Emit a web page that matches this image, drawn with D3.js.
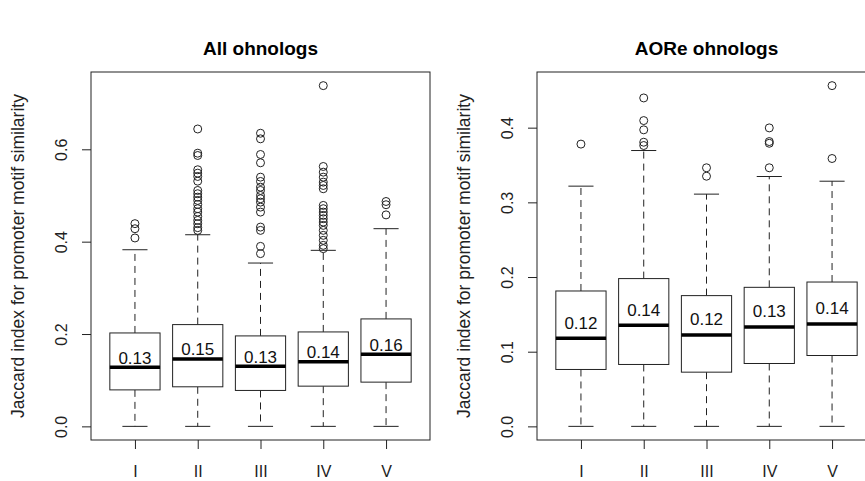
<!DOCTYPE html>
<html>
<head>
<meta charset="utf-8">
<script src="https://cdn.jsdelivr.net/npm/d3@7"></script>
<style>
  html, body { margin: 0; padding: 0; background: #fff; }
  svg { display: block; font-family: "Liberation Sans", Arial, Helvetica, sans-serif; }
</style>
</head>
<body>
<svg id="chart" width="865" height="481"></svg>
<script>
// Groups shown on the x axis of both panels
const categories = ["I", "II", "III", "IV", "V"];

// Panel 1: all ohnologs — five-number summaries and outliers
const allTitle = "All ohnologs";
const allLower = [0, 0, 0, 0, 0];
const allQ1 = [0.079, 0.0857, 0.0778, 0.0871, 0.0958];
const allMedian = [0.128, 0.146, 0.130, 0.140, 0.156];
const allQ3 = [0.2023, 0.2204, 0.1959, 0.2045, 0.2327];
const allUpper = [0.3825, 0.415, 0.3537, 0.3812, 0.4281];
const allOutliers = [
  [0.439, 0.428, 0.408],
  [0.644, 0.5916, 0.5866, 0.5557, 0.5484, 0.5412, 0.5310, 0.5109, 0.5038, 0.4964,
   0.4893, 0.4806, 0.4714, 0.4640, 0.4547, 0.4461, 0.4389, 0.4303, 0.4244],
  [0.6348, 0.6227, 0.5888, 0.5708, 0.5397, 0.5304, 0.5181, 0.5109, 0.5001, 0.4930,
   0.4856, 0.4748, 0.4640, 0.4316, 0.4244, 0.3898, 0.3741],
  [0.7379, 0.5628, 0.5505, 0.5397, 0.5289, 0.5217, 0.5146, 0.4785, 0.4714, 0.4640,
   0.4569, 0.4497, 0.4424, 0.4353, 0.4245, 0.4137, 0.4029, 0.3920, 0.3849],
  [0.487, 0.480, 0.458]
];
const allTicks = [0, 0.2, 0.4, 0.6];

// Panel 2: AORe ohnologs
const aoreTitle = "AORe ohnologs";
const aoreLower = [0, 0, 0, 0, 0];
const aoreQ1 = [0.0762, 0.0829, 0.0726, 0.0842, 0.0949];
const aoreMedian = [0.118, 0.1355, 0.1225, 0.133, 0.137];
const aoreQ3 = [0.1813, 0.1979, 0.1751, 0.1862, 0.1933];
const aoreUpper = [0.3217, 0.3694, 0.311, 0.3346, 0.3283];
const aoreOutliers = [
  [0.378],
  [0.4398, 0.4095, 0.3971, 0.3805, 0.3761],
  [0.3463, 0.3350],
  [0.3997, 0.3814, 0.3791, 0.3463],
  [0.4563, 0.3587]
];
const aoreTicks = [0, 0.1, 0.2, 0.3, 0.4];

const yLabel = "Jaccard index for promoter motif similarity";

const svg = d3.select("#chart");
svg.append("rect").attr("width", 865).attr("height", 481).attr("fill", "#fff");

const fmt2 = d3.format(".2f");
const fmt1 = d3.format(".1f");
const ink = "#222";

function drawPanel(opts) {
  const { left, top, width, height, title, lower, q1, median, q3, upper, outliers, ticks } = opts;
  const g = svg.append("g");

  // R-style extended range: data range padded by 4% on each side
  const allVals = lower.concat(upper, outliers.flat());
  const [lo, hi] = d3.extent(allVals);
  const pad = (hi - lo) * 0.04;
  const y = d3.scaleLinear().domain([lo - pad, hi + pad]).range([top + height, top]);
  const x = d3.scaleLinear().domain([0.3, categories.length + 0.7]).range([left, left + width]);
  const boxW = x(0.8) - x(0);
  const capW = boxW / 2;

  const data = categories.map((c, i) => ({
    cat: c, pos: i + 1, lower: lower[i], q1: q1[i], median: median[i],
    q3: q3[i], upper: upper[i], out: outliers[i]
  }));

  const grp = g.selectAll("g.box").data(data).join("g").attr("class", "box");

  // whiskers (dashed)
  grp.append("line")
    .attr("x1", d => x(d.pos)).attr("x2", d => x(d.pos))
    .attr("y1", d => y(d.q3)).attr("y2", d => y(d.upper))
    .attr("stroke", ink).attr("stroke-width", 1).attr("stroke-dasharray", "7,5");
  grp.append("line")
    .attr("x1", d => x(d.pos)).attr("x2", d => x(d.pos))
    .attr("y1", d => y(d.q1)).attr("y2", d => y(d.lower))
    .attr("stroke", ink).attr("stroke-width", 1).attr("stroke-dasharray", "7,5");
  // staples
  ["upper", "lower"].forEach(k => {
    grp.append("line")
      .attr("x1", d => x(d.pos) - capW / 2).attr("x2", d => x(d.pos) + capW / 2)
      .attr("y1", d => y(d[k])).attr("y2", d => y(d[k]))
      .attr("stroke", ink).attr("stroke-width", 1);
  });
  // boxes
  grp.append("rect")
    .attr("x", d => x(d.pos) - boxW / 2).attr("width", boxW)
    .attr("y", d => y(d.q3)).attr("height", d => y(d.q1) - y(d.q3))
    .attr("fill", "#fff").attr("stroke", ink).attr("stroke-width", 1);
  // medians
  grp.append("line")
    .attr("x1", d => x(d.pos) - boxW / 2).attr("x2", d => x(d.pos) + boxW / 2)
    .attr("y1", d => y(d.median)).attr("y2", d => y(d.median))
    .attr("stroke", "#000").attr("stroke-width", 3.5);
  // median value labels
  grp.append("text")
    .attr("x", d => x(d.pos))
    .attr("y", d => y(d.median + 0.021) + 6)
    .attr("text-anchor", "middle")
    .attr("font-size", 17).attr("fill", "#111")
    .text(d => fmt2(d.median));
  // outliers
  grp.selectAll("circle").data(d => d.out.map(v => ({ pos: d.pos, v })))
    .join("circle")
    .attr("cx", d => x(d.pos)).attr("cy", d => y(d.v)).attr("r", 4)
    .attr("fill", "none").attr("stroke", ink).attr("stroke-width", 1);

  // frame
  g.append("rect")
    .attr("x", left).attr("y", top).attr("width", width).attr("height", height)
    .attr("fill", "none").attr("stroke", ink).attr("stroke-width", 1);

  // y axis
  const yAxis = g.append("g").attr("transform", `translate(${left},0)`)
    .call(d3.axisLeft(y).tickValues(ticks).tickFormat(fmt1).tickSize(9).tickSizeOuter(0));
  yAxis.select(".domain").remove();
  yAxis.selectAll("line").attr("stroke", ink);
  yAxis.selectAll("text")
    .attr("font-size", 16).attr("fill", "#222")
    .attr("font-family", "Liberation Sans, Arial, sans-serif")
    .attr("text-anchor", "middle")
    .attr("x", 0).attr("dy", 0)
    .attr("transform", "translate(-24,0) rotate(-90)");
  yAxis.selectAll(".tick text").attr("y", 0);

  // x axis
  const xAxis = g.append("g").attr("transform", `translate(0,${top + height})`)
    .call(d3.axisBottom(x).tickValues(d3.range(1, categories.length + 1))
      .tickFormat(i => categories[i - 1]).tickSize(9).tickSizeOuter(0).tickPadding(17));
  xAxis.select(".domain").remove();
  xAxis.selectAll("line").attr("stroke", ink);
  xAxis.selectAll("text").attr("font-size", 16).attr("fill", "#222")
    .attr("font-family", "Liberation Sans, Arial, sans-serif");

  // axis title
  g.append("text")
    .attr("transform", `translate(${left - 67},${top + height / 2}) rotate(-90)`)
    .attr("text-anchor", "middle").attr("font-size", 17.5).attr("fill", "#222")
    .text(yLabel);

  // panel title
  g.append("text")
    .attr("x", left + width / 2).attr("y", 55)
    .attr("text-anchor", "middle").attr("font-size", 19).attr("font-weight", "bold")
    .attr("fill", "#000")
    .text(title);
}

drawPanel({
  left: 91, top: 72, width: 339, height: 368, title: allTitle,
  lower: allLower, q1: allQ1, median: allMedian, q3: allQ3, upper: allUpper,
  outliers: allOutliers, ticks: allTicks
});
drawPanel({
  left: 537, top: 72, width: 339, height: 368, title: aoreTitle,
  lower: aoreLower, q1: aoreQ1, median: aoreMedian, q3: aoreQ3, upper: aoreUpper,
  outliers: aoreOutliers, ticks: aoreTicks
});
</script>
</body>
</html>
